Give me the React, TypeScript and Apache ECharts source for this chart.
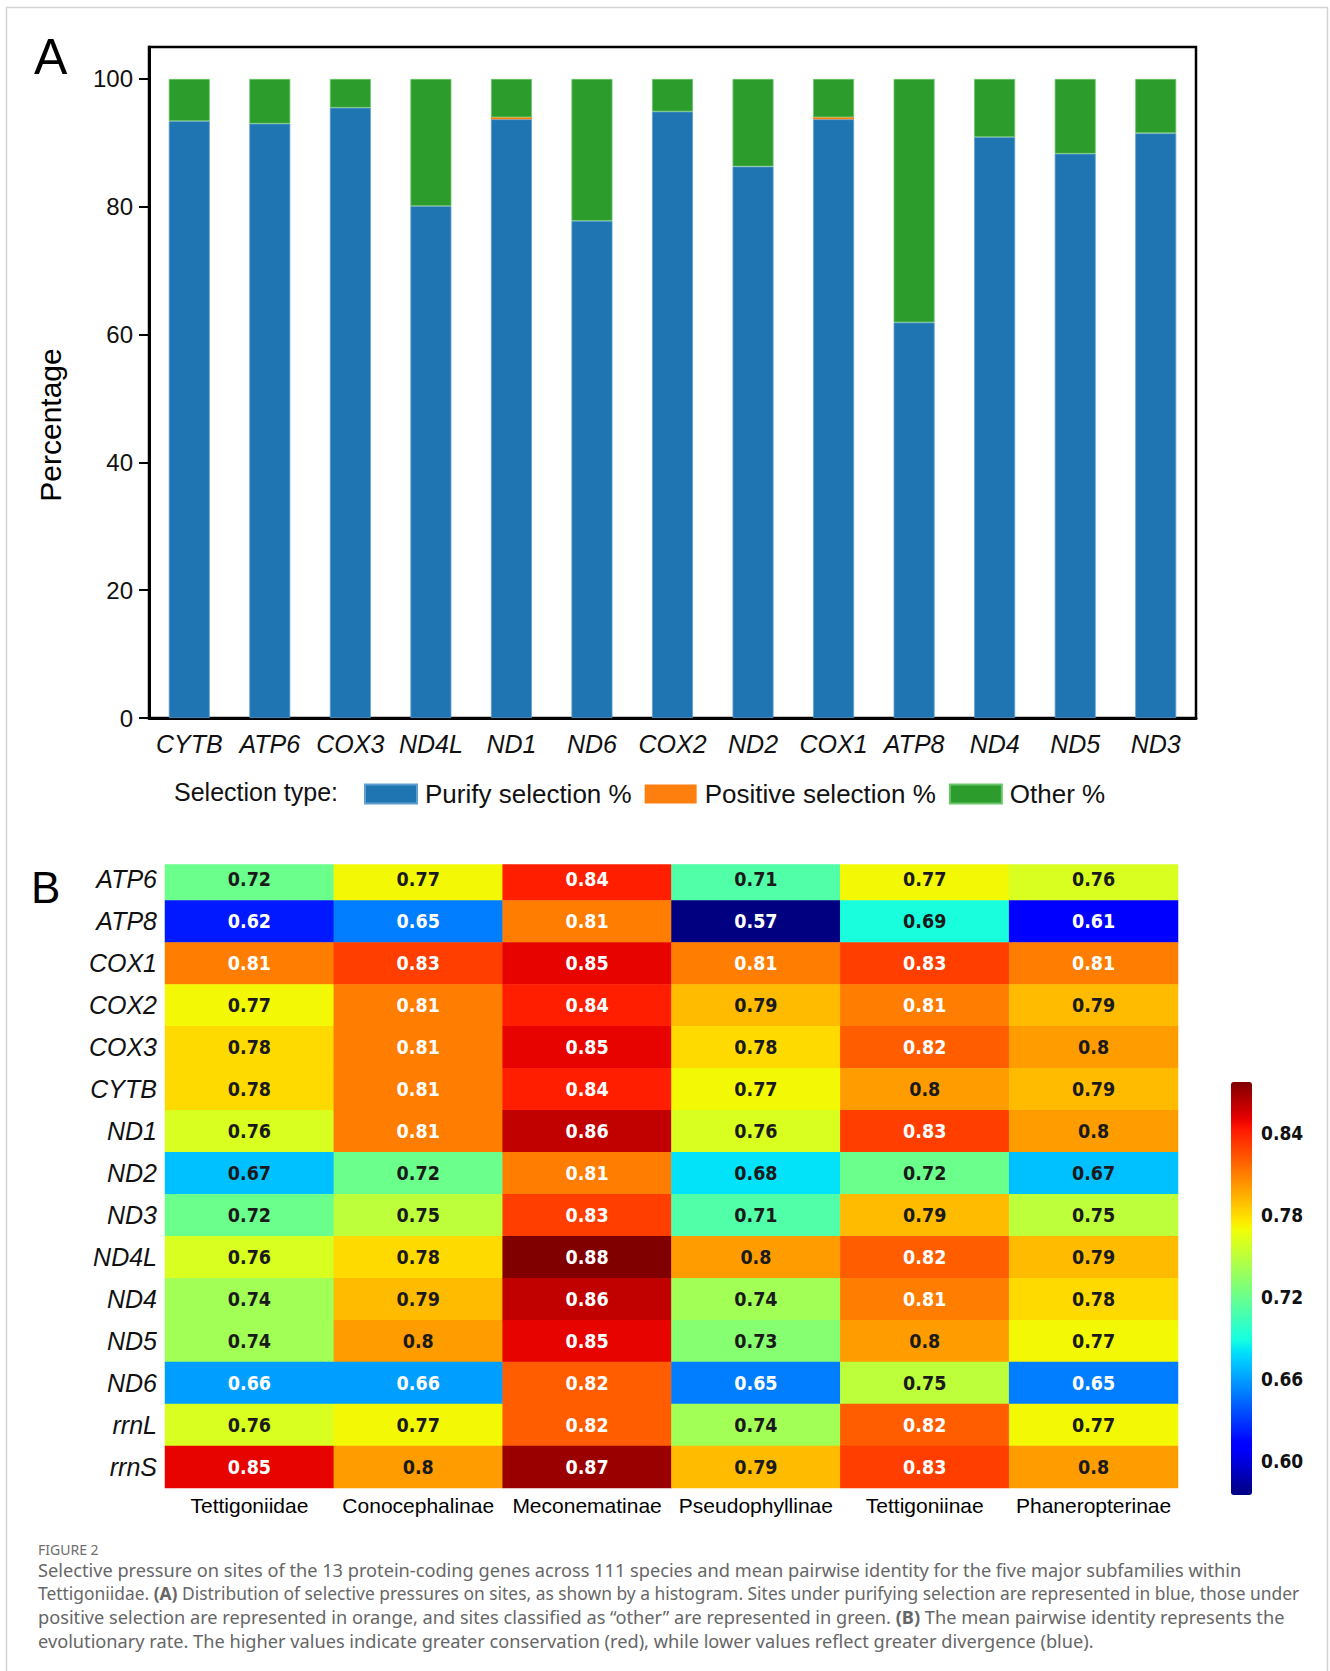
import React, { useEffect, useRef } from "react";
import * as echarts from "echarts";

// ---------- Panel A data ----------
const genes = ["CYTB", "ATP6", "COX3", "ND4L", "ND1", "ND6", "COX2", "ND2", "COX1", "ATP8", "ND4", "ND5", "ND3"];
const purify = [93.4, 93.0, 95.5, 80.1, 93.7, 77.8, 94.9, 86.3, 93.7, 61.9, 90.9, 88.3, 91.5];
const positive = [0, 0, 0, 0, 0.3, 0, 0, 0, 0.3, 0, 0, 0, 0];
const other = [6.6, 7.0, 4.5, 19.9, 6.0, 22.2, 5.1, 13.7, 6.0, 38.1, 9.1, 11.7, 8.5];
const yTicks = [0, 20, 40, 60, 80, 100];

// ---------- Panel B data ----------
const subfamilies = ["Tettigoniidae", "Conocephalinae", "Meconematinae", "Pseudophyllinae", "Tettigoniinae", "Phaneropterinae"];
const loci = ["ATP6", "ATP8", "COX1", "COX2", "COX3", "CYTB", "ND1", "ND2", "ND3", "ND4L", "ND4", "ND5", "ND6", "rrnL", "rrnS"];
const tettigoniidae = [0.72, 0.62, 0.81, 0.77, 0.78, 0.78, 0.76, 0.67, 0.72, 0.76, 0.74, 0.74, 0.66, 0.76, 0.85];
const conocephalinae = [0.77, 0.65, 0.83, 0.81, 0.81, 0.81, 0.81, 0.72, 0.75, 0.78, 0.79, 0.8, 0.66, 0.77, 0.8];
const meconematinae = [0.84, 0.81, 0.85, 0.84, 0.85, 0.84, 0.86, 0.81, 0.83, 0.88, 0.86, 0.85, 0.82, 0.82, 0.87];
const pseudophyllinae = [0.71, 0.57, 0.81, 0.79, 0.78, 0.77, 0.76, 0.68, 0.71, 0.8, 0.74, 0.73, 0.65, 0.74, 0.79];
const tettigoniinae = [0.77, 0.69, 0.83, 0.81, 0.82, 0.8, 0.83, 0.72, 0.79, 0.82, 0.81, 0.8, 0.75, 0.82, 0.83];
const phaneropterinae = [0.76, 0.61, 0.81, 0.79, 0.8, 0.79, 0.8, 0.67, 0.75, 0.79, 0.78, 0.77, 0.65, 0.77, 0.8];
const columns = [tettigoniidae, conocephalinae, meconematinae, pseudophyllinae, tettigoniinae, phaneropterinae];
const colorbarTicks = [0.6, 0.66, 0.72, 0.78, 0.84];
const colorMin = 0.575;
const colorMax = 0.877;

const captionLines = [
  "Selective pressure on sites of the 13 protein-coding genes across 111 species and mean pairwise identity for the five major subfamilies within",
  "Tettigoniidae. {b|(A)} Distribution of selective pressures on sites, as shown by a histogram. Sites under purifying selection are represented in blue, those under",
  "positive selection are represented in orange, and sites classified as \u201cother\u201d are represented in green. {b|(B)} The mean pairwise identity represents the",
  "evolutionary rate. The higher values indicate greater conservation (red), while lower values reflect greater divergence (blue).",
];
const captionSizes = [18.2, 17.4, 18.2, 18.2];

// matplotlib "jet" colormap
function interp(t: number, pts: number[][]) {
  for (let i = 1; i < pts.length; i++) {
    if (t <= pts[i][0]) {
      const [x0, y0] = pts[i - 1];
      const [x1, y1] = pts[i];
      return y0 + ((t - x0) / (x1 - x0)) * (y1 - y0);
    }
  }
  return pts[pts.length - 1][1];
}
function jet(t: number) {
  const r = interp(t, [[0, 0], [0.35, 0], [0.66, 1], [0.89, 1], [1, 0.5]]);
  const g = interp(t, [[0, 0], [0.125, 0], [0.375, 1], [0.64, 1], [0.91, 0], [1, 0]]);
  const b = interp(t, [[0, 0.5], [0.11, 1], [0.34, 1], [0.65, 0], [1, 0]]);
  const h = (v: number) => Math.round(Math.max(0, Math.min(1, v)) * 255).toString(16).padStart(2, "0");
  return "#" + h(r) + h(g) + h(b);
}
const jetColors = Array.from({ length: 65 }, (_, i) => jet(i / 64));

const SANS = "'Liberation Sans', Arial, Helvetica, sans-serif";
const COND = "'DejaVu Sans Condensed', 'DejaVu Sans', sans-serif";
const CAP = "'Noto Sans', 'Open Sans', sans-serif";

export default function App() {
  const ref = useRef<HTMLDivElement>(null);
  useEffect(() => {
    if (!ref.current) return;
    const chart = echarts.init(ref.current, null, { renderer: "svg" });

    const heatData: any[] = [];
    columns.forEach((col, x) => {
      col.forEach((v, y) => {
        const light = v >= 0.805 || v <= 0.665;
        heatData.push({ value: [x, y, v], label: { color: light ? "#ffffff" : "#1a1a1a" } });
      });
    });

    const option: any = {
      animation: false,
      backgroundColor: "#ffffff",
      textStyle: { fontFamily: SANS },
      grid: [
        { left: 149, top: 47, width: 1047, height: 671, show: true, borderColor: "#000", borderWidth: 2.5, backgroundColor: "transparent" },
        { left: 165, top: 858.5, width: 1013, height: 629.5 },
        { left: 1231, top: 1082, width: 21, height: 413 },
      ],
      xAxis: [
        {
          gridIndex: 0, type: "category", data: genes,
          axisLine: { lineStyle: { color: "#000", width: 3 } },
          axisTick: { show: false },
          axisLabel: { color: "#111", fontSize: 25, fontStyle: "italic", fontFamily: SANS, margin: 13, interval: 0 },
        },
        {
          gridIndex: 1, type: "category", data: subfamilies, position: "bottom",
          axisLine: { show: false }, axisTick: { show: false }, splitArea: { show: false },
          axisLabel: { color: "#000", fontSize: 21, fontFamily: SANS, margin: 7, interval: 0 },
        },
        { gridIndex: 2, type: "value", show: false, min: 0, max: 1 },
      ],
      yAxis: [
        {
          gridIndex: 0, type: "value", min: 0, max: 105,
          axisLine: { show: true, lineStyle: { color: "#000", width: 3 } },
          axisTick: { show: true, inside: false, length: 10, lineStyle: { color: "#000", width: 2 }, customValues: yTicks },
          axisLabel: { color: "#111", fontSize: 24, fontFamily: SANS, margin: 16, customValues: yTicks },
          splitLine: { show: false },
        },
        {
          gridIndex: 1, type: "category", data: loci, inverse: true,
          axisLine: { show: false }, axisTick: { show: false },
          axisLabel: { color: "#111", fontSize: 25, fontStyle: "italic", fontFamily: SANS, margin: 8, interval: 0 },
        },
        {
          gridIndex: 2, type: "value", min: colorMin, max: colorMax, position: "right",
          axisLine: { show: false }, splitLine: { show: false },
          axisTick: { show: true, length: 5, lineStyle: { color: "#000", width: 1.5 }, customValues: colorbarTicks },
          axisLabel: {
            color: "#111", fontSize: 19, fontWeight: "bold", fontFamily: COND, margin: 9,
            customValues: colorbarTicks, formatter: (v: number) => v.toFixed(2),
          },
        },
      ],
      legend: {
        left: 359, top: 776, itemWidth: 52, itemHeight: 19, itemGap: 13,
        icon: "rect",
        data: ["Purify selection %", "Positive selection %", "Other %"],
        textStyle: { fontSize: 26, color: "#111", fontFamily: SANS, padding: [0, 0, 0, 3] },
      },
      visualMap: {
        type: "continuous", min: colorMin, max: colorMax, seriesIndex: 3,
        calculable: false, orient: "vertical", left: 1231, top: 1082,
        itemWidth: 21, itemHeight: 413, padding: 0, hoverLink: false,
        inRange: { color: jetColors },
      },
      series: [
        {
          name: "Purify selection %", type: "bar", stack: "sel", xAxisIndex: 0, yAxisIndex: 0,
          data: purify, barWidth: 41,
          itemStyle: { color: "#1f74b2", borderColor: "#5f9fd0", borderWidth: 0.8 },
        },
        {
          name: "Positive selection %", type: "bar", stack: "sel", xAxisIndex: 0, yAxisIndex: 0,
          data: positive, barWidth: 41,
          itemStyle: { color: "#ff7f0e" },
        },
        {
          name: "Other %", type: "bar", stack: "sel", xAxisIndex: 0, yAxisIndex: 0,
          data: other, barWidth: 41,
          itemStyle: { color: "#2c9c2c", borderColor: "#6cc56c", borderWidth: 0.8 },
        },
        {
          name: "identity", type: "heatmap", xAxisIndex: 1, yAxisIndex: 1,
          data: heatData,
          label: {
            show: true, fontSize: 19.5, fontWeight: "bold", fontFamily: COND,
            formatter: (p: any) => String(p.value[2]),
          },
          itemStyle: { borderWidth: 0 },
          emphasis: { disabled: true },
        },
      ],
      graphic: [
        {
          type: "rect", silent: true, z: -10,
          shape: { x: 6.5, y: 7.5, width: 1321, height: 1680 },
          style: { fill: "none", stroke: "#d4d4d4", lineWidth: 1.5 },
        },
        // white band clipping the top of the first heatmap row, as in the source figure
        {
          type: "rect", silent: true, z: 100,
          shape: { x: 160, y: 850, width: 1025, height: 14.3 },
          style: { fill: "#ffffff" },
        },
        { type: "text", left: 34, top: 32, z: 101, style: { text: "A", fontSize: 50, fontFamily: SANS, fill: "#000" } },
        { type: "text", left: 31, top: 865, z: 101, style: { text: "B", fontSize: 44, fontFamily: SANS, fill: "#000" } },
        {
          type: "text", x: 50, y: 425, rotation: Math.PI / 2, z: 101,
          style: { text: "Percentage", fontSize: 30, fontFamily: SANS, fill: "#000", align: "center", verticalAlign: "middle" },
        },
        { type: "text", left: 174, top: 779, style: { text: "Selection type:", fontSize: 25, fontFamily: SANS, fill: "#111" } },
        { type: "text", left: 38, top: 1542, style: { text: "FIGURE 2", fontSize: 14, fontFamily: CAP, fill: "#6e6e6e" } },
        ...captionLines.map((line, i) => ({
          type: "text", left: 38, top: 1560.5 + i * 23.7,
          style: {
            text: line, fontSize: captionSizes[i], fontFamily: CAP, fill: "#666666",
            rich: { b: { fontSize: captionSizes[i], fontWeight: "bold", fontFamily: CAP, fill: "#666666" } },
          },
        })),
      ],
    };
    chart.setOption(option);
    return () => chart.dispose();
  }, []);
  return <div ref={ref} style={{ position: "absolute", left: 0, top: 0, width: 1330, height: 1671 }} />;
}
